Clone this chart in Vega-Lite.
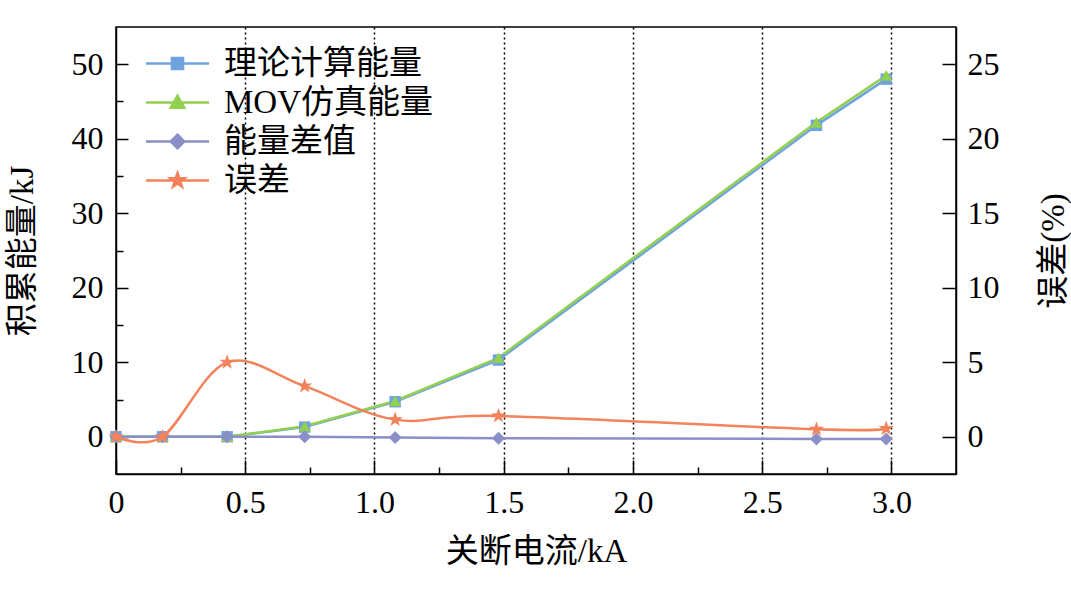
{
  "$schema": "https://vega.github.io/schema/vega-lite/v6.json",
  "width": 840,
  "height": 447,
  "autosize": {"type": "none"},
  "padding": {"left": 116, "top": 27, "right": 115, "bottom": 120},
  "background": "white",
  "data": {
    "values": [
      {"I": 0, "theory": 0, "mov": 0, "diff": 0, "err": 0},
      {"I": 0.18, "theory": 0, "mov": 0, "diff": 0, "err": 0},
      {"I": 0.43, "theory": 0, "mov": 0, "diff": 0, "err": 5.0},
      {"I": 0.73, "theory": 1.3, "mov": 1.4, "diff": 0, "err": 3.4},
      {"I": 1.08, "theory": 4.7, "mov": 4.8, "diff": -0.1, "err": 1.15},
      {"I": 1.48, "theory": 10.3, "mov": 10.6, "diff": -0.2, "err": 1.4},
      {"I": 2.71, "theory": 41.8, "mov": 42.2, "diff": -0.3, "err": 0.5},
      {"I": 2.98, "theory": 48.0, "mov": 48.5, "diff": -0.3, "err": 0.55}
    ]
  },
  "encoding": {
    "x": {
      "field": "I",
      "type": "quantitative",
      "scale": {"domain": [0, 3.25], "nice": false, "zero": false},
      "axis": {
        "title": "关断电流/kA",
        "values": [0, 0.25, 0.5, 0.75, 1, 1.25, 1.5, 1.75, 2, 2.25, 2.5, 2.75, 3],
        "labelExpr": "datum.value === 0 ? '0' : ((datum.value * 2) % 1 === 0 ? format(datum.value, '.1f') : '')",
        "tickSize": {"condition": {"test": "(datum.value * 2) % 1 === 0", "value": -14}, "value": -7},
        "labelPadding": 27,
        "grid": true,
        "gridColor": "#000",
        "gridDash": [2, 3],
        "gridWidth": 1.5,
        "gridOpacity": {"condition": {"test": "datum.value > 0 && (datum.value * 2) % 1 === 0", "value": 1}, "value": 0},
        "titlePadding": 10
      }
    }
  },
  "layer": [
    {
      "layer": [
        {
          "mark": {"type": "line", "color": "#6fa3e0", "strokeWidth": 2.5},
          "encoding": {
            "y": {
              "field": "theory",
              "type": "quantitative",
              "title": "积累能量/kJ",
              "scale": {"domain": [-5, 55], "nice": false},
              "axis": {
                "orient": "left",
                "values": [0, 5, 10, 15, 20, 25, 30, 35, 40, 45, 50],
                "labelExpr": "datum.value % 10 === 0 ? datum.label : ''",
                "tickSize": {"condition": {"test": "datum.value % 10 === 0", "value": -12}, "value": -7},
                "labelPadding": 25,
                "grid": false,
                "titlePadding": 32
              }
            }
          }
        },
        {
          "mark": {"type": "line", "color": "#92d050", "strokeWidth": 2.5},
          "encoding": {"y": {"field": "mov", "type": "quantitative", "title": "积累能量/kJ"}}
        },
        {
          "mark": {"type": "line", "color": "#8b8fc8", "strokeWidth": 2.5},
          "encoding": {"y": {"field": "diff", "type": "quantitative", "title": "积累能量/kJ"}}
        },
        {
          "mark": {"type": "point", "shape": "square", "filled": true, "opacity": 1, "size": 130, "color": "#6fa3e0"},
          "encoding": {"y": {"field": "theory", "type": "quantitative", "title": "积累能量/kJ"}}
        },
        {
          "mark": {"type": "point", "shape": "triangle-up", "filled": true, "opacity": 1, "size": 150, "color": "#92d050"},
          "encoding": {"y": {"field": "mov", "type": "quantitative", "title": "积累能量/kJ"}}
        },
        {
          "mark": {"type": "point", "shape": "diamond", "filled": true, "opacity": 1, "size": 170, "color": "#8b8fc8"},
          "encoding": {"y": {"field": "diff", "type": "quantitative", "title": "积累能量/kJ"}}
        }
      ]
    },
    {
      "layer": [
        {
          "mark": {"type": "line", "color": "#f2835c", "strokeWidth": 2.5, "interpolate": "cardinal"},
          "encoding": {
            "y": {
              "field": "err",
              "type": "quantitative",
              "title": "误差(%)",
              "scale": {"domain": [-2.5, 27.5], "nice": false},
              "axis": {
                "orient": "right",
                "titleAngle": -90,
                "titleBaseline": "top",
                "values": [0, 5, 10, 15, 20, 25],
                "tickSize": -14,
                "labelPadding": 25,
                "grid": false,
                "titlePadding": 38
              }
            }
          }
        },
        {
          "mark": {"type": "point", "shape": "M0,-1L0.235,-0.324L0.951,-0.309L0.38,0.124L0.588,0.809L0,0.4L-0.588,0.809L-0.38,0.124L-0.951,-0.309L-0.235,-0.324Z", "filled": true, "opacity": 1, "size": 256, "color": "#f2835c"},
          "encoding": {"y": {"field": "err", "type": "quantitative", "title": "误差(%)"}}
        }
      ]
    },
    {
      "transform": [{"filter": "datum.I > 100"}],
      "mark": {"type": "point", "filled": true, "size": 900},
      "encoding": {
        "fill": {
          "field": "series",
          "type": "nominal",
          "scale": {
            "domain": ["理论计算能量", "MOV仿真能量", "能量差值", "误差"],
            "range": ["#6fa3e0", "#92d050", "#8b8fc8", "#f2835c"]
          },
          "legend": {
            "title": null,
            "orient": "none",
            "legendX": 45,
            "legendY": 20,
            "padding": 0,
            "symbolSize": 900,
            "symbolStrokeWidth": 2.5,
            "symbolOpacity": 1,
            "labelFontSize": 33,
            "labelOffset": 30,
            "labelLimit": 0,
            "rowPadding": 5
          }
        },
        "stroke": {
          "field": "series",
          "type": "nominal",
          "scale": {
            "domain": ["理论计算能量", "MOV仿真能量", "能量差值", "误差"],
            "range": ["#6fa3e0", "#92d050", "#8b8fc8", "#f2835c"]
          },
          "legend": {
            "title": null,
            "orient": "none",
            "legendX": 45,
            "legendY": 20,
            "padding": 0,
            "symbolSize": 900,
            "symbolStrokeWidth": 2.5,
            "symbolOpacity": 1,
            "labelFontSize": 33,
            "labelOffset": 30,
            "labelLimit": 0,
            "rowPadding": 5
          }
        },
        "shape": {
          "field": "series",
          "type": "nominal",
          "scale": {
            "domain": ["理论计算能量", "MOV仿真能量", "能量差值", "误差"],
            "range": [
              "M-2.1,0H2.1M-0.37,-0.37H0.37V0.37H-0.37Z",
              "M-2.1,0H2.1M0,-0.45L0.45,0.35L-0.45,0.35Z",
              "M-2.1,0H2.1M0,-0.45L0.45,0L0,0.45L-0.45,0Z",
              "M-2.1,0H2.1M0,-0.5L0.118,-0.162L0.476,-0.155L0.19,0.062L0.294,0.405L0,0.2L-0.294,0.405L-0.19,0.062L-0.476,-0.155L-0.118,-0.162Z"
            ]
          },
          "legend": {
            "title": null,
            "orient": "none",
            "legendX": 45,
            "legendY": 20,
            "padding": 0,
            "symbolSize": 900,
            "symbolStrokeWidth": 2.5,
            "symbolOpacity": 1,
            "labelFontSize": 33,
            "labelOffset": 30,
            "labelLimit": 0,
            "rowPadding": 5
          }
        }
      }
    }
  ],
  "resolve": {"scale": {"y": "independent"}},
  "config": {
    "font": "Liberation Serif, Noto Sans CJK SC",
    "view": {"stroke": "#000", "strokeWidth": 1.5},
    "axis": {
      "labelFont": "Liberation Serif, Noto Sans CJK SC",
      "labelFontSize": 32,
      "labelColor": "#000",
      "labelOverlap": false,
      "labelFlush": false,
      "labelBound": false,
      "titleFont": "Liberation Serif, Noto Sans CJK SC",
      "titleFontSize": 33,
      "titleFontWeight": "normal",
      "titleColor": "#000",
      "domainColor": "#000",
      "domainWidth": 1.5,
      "tickColor": "#000",
      "tickWidth": 1.5
    },
    "legend": {
      "labelFont": "Liberation Serif, Noto Sans CJK SC",
      "labelColor": "#000"
    }
  }
}
